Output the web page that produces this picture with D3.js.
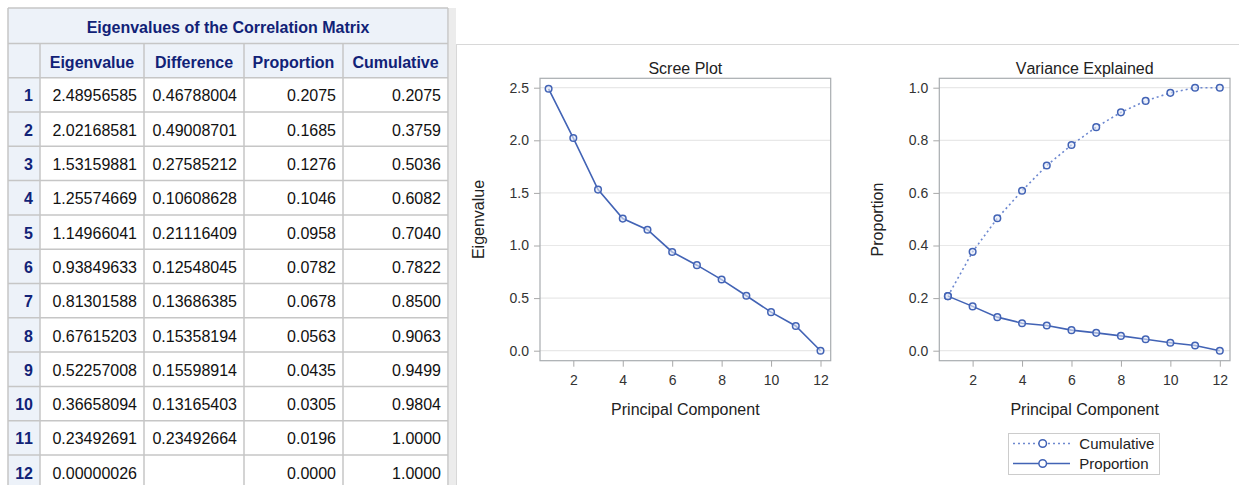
<!DOCTYPE html>
<html>
<head>
<meta charset="utf-8">
<script src="https://cdn.jsdelivr.net/npm/d3@7"></script>
<style>
  body { margin: 0; background: #fff; }
  svg text { font-family: "Liberation Sans", Arial, sans-serif; font-kerning: none; font-variant-numeric: tabular-nums; }
</style>
</head>
<body>
<svg id="chart" width="1239" height="485"></svg>
<script>
// values from the eigen table
var components = [1, 2, 3, 4, 5, 6, 7, 8, 9, 10, 11, 12];
var eigenvalues = [2.48956585, 2.02168581, 1.53159881, 1.25574669, 1.14966041, 0.93849633,
                   0.81301588, 0.67615203, 0.52257008, 0.36658094, 0.23492691, 0.00000026];
var differences = [0.46788004, 0.49008701, 0.27585212, 0.10608628, 0.21116409, 0.12548045,
                   0.13686385, 0.15358194, 0.15598914, 0.13165403, 0.23492664, null];
var proportions = [0.2075, 0.1685, 0.1276, 0.1046, 0.0958, 0.0782, 0.0678, 0.0563, 0.0435, 0.0305, 0.0196, 0.0000];
var cumulatives = [0.2075, 0.3759, 0.5036, 0.6082, 0.7040, 0.7822, 0.8500, 0.9063, 0.9499, 0.9804, 1.0000, 1.0000];
var tableTitle = "Eigenvalues of the Correlation Matrix";
var columnNames = ["Eigenvalue", "Difference", "Proportion", "Cumulative"];
var xTicks = [2, 4, 6, 8, 10, 12];
var screeTicks = [0, 0.5, 1.0, 1.5, 2.0, 2.5];
var varTicks = [0, 0.2, 0.4, 0.6, 0.8, 1.0];

var svg = d3.select("#chart");
var navy = "#112277";
var headBg = "#edf2f9";
var gridBorder = "#c6c6c6";
var blue = "#4263b5";
var lightBlue = "#6d88d0";

// ---------- table ----------
var colEdges = [8, 40, 144, 244, 343, 448];
var titleTop = 8, headTop = 43.5, bodyTop = 77.7, rowH = 34.3;
var fmt8 = d3.format(".8f"), fmt4 = d3.format(".4f");

var tbl = svg.append("g");
tbl.append("rect").attr("x", colEdges[0]).attr("y", titleTop)
  .attr("width", colEdges[5] - colEdges[0]).attr("height", bodyTop - titleTop).attr("fill", headBg);
tbl.append("rect").attr("x", colEdges[0]).attr("y", bodyTop)
  .attr("width", colEdges[1] - colEdges[0]).attr("height", 485 - bodyTop).attr("fill", headBg);

tbl.append("text").attr("x", (colEdges[0] + colEdges[5]) / 2).attr("y", 33.3)
  .attr("text-anchor", "middle").attr("font-size", 16).attr("font-weight", "bold")
  .attr("fill", navy).text(tableTitle);

tbl.selectAll(".hdr").data(columnNames).enter().append("text")
  .attr("x", function(d, i) { return (colEdges[i + 1] + colEdges[i + 2]) / 2; })
  .attr("y", 67.5).attr("text-anchor", "middle").attr("font-size", 16).attr("font-weight", "bold")
  .attr("fill", navy).text(function(d) { return d; });

var rows = tbl.selectAll(".row").data(components).enter().append("g")
  .attr("transform", function(d, i) { return "translate(0," + (bodyTop + i * rowH) + ")"; });

rows.append("text").attr("x", colEdges[1] - 7).attr("y", 23.8).attr("text-anchor", "end")
  .attr("font-size", 16).attr("font-weight", "bold").attr("fill", navy)
  .text(function(d) { return d; });

var cells = [
  function(i) { return fmt8(eigenvalues[i]); },
  function(i) { return differences[i] == null ? "" : fmt8(differences[i]); },
  function(i) { return fmt4(proportions[i]); },
  function(i) { return fmt4(cumulatives[i]); }
];
cells.forEach(function(f, c) {
  rows.append("text").attr("x", colEdges[c + 2] - 7).attr("y", 23.8).attr("text-anchor", "end")
    .attr("font-size", 16).attr("fill", "#111")
    .text(function(d, i) { return f(i); });
});

// grid lines of table
var hLines = [titleTop, headTop, bodyTop];
for (var r = 1; r <= 12; r++) hLines.push(bodyTop + r * rowH);
tbl.selectAll(".hl").data(hLines).enter().append("line")
  .attr("x1", colEdges[0]).attr("x2", colEdges[5])
  .attr("y1", function(d) { return d; }).attr("y2", function(d) { return d; })
  .attr("stroke", gridBorder).attr("stroke-width", 1.5);
tbl.selectAll(".vl").data(colEdges).enter().append("line")
  .attr("x1", function(d) { return d; }).attr("x2", function(d) { return d; })
  .attr("y1", function(d, i) { return (i == 0 || i == 5) ? titleTop : headTop; }).attr("y2", 485)
  .attr("stroke", gridBorder).attr("stroke-width", 1.5);

// divider strip and panel border
svg.append("rect").attr("x", 449).attr("y", 8).attr("width", 7).attr("height", 477).attr("fill", "#ececec");
svg.append("line").attr("x1", 456.5).attr("x2", 456.5).attr("y1", 44).attr("y2", 485).attr("stroke", "#d8d8d8");
svg.append("line").attr("x1", 456).attr("x2", 1239).attr("y1", 44.5).attr("y2", 44.5).attr("stroke", "#d8d8d8");

// ---------- plots ----------
function drawPlot(opt) {
  var g = svg.append("g");
  var fr = opt.frame;
  var x = d3.scaleLinear().domain([1, 12]).range([fr.x0 + 8.6, fr.x1 - 10.2]);
  var y = d3.scaleLinear().domain(opt.yDomain).range([350.7, 87.7]);

  g.selectAll(".grid").data(opt.yTicks).enter().append("line")
    .attr("x1", fr.x0).attr("x2", fr.x1)
    .attr("y1", function(d) { return y(d); }).attr("y2", function(d) { return y(d); })
    .attr("stroke", "#e8e8e8").attr("stroke-width", 1.2);

  var yAxis = d3.axisLeft(y).tickValues(opt.yTicks).tickFormat(d3.format(".1f")).tickSize(6).tickPadding(5);
  var ya = g.append("g").attr("transform", "translate(" + fr.x0 + ",0)").call(yAxis);
  var xAxis = d3.axisBottom(x).tickValues(xTicks).tickSize(6).tickPadding(8);
  var xa = g.append("g").attr("transform", "translate(0," + fr.y1 + ")").call(xAxis);
  [ya, xa].forEach(function(a) {
    a.select(".domain").remove();
    a.selectAll("line").attr("stroke", "#a8a8a8");
    a.selectAll("text").attr("font-size", 14).attr("fill", "#333")
      .attr("font-family", "Liberation Sans, Arial, sans-serif");
  });

  g.append("rect").attr("x", fr.x0).attr("y", fr.y0).attr("width", fr.x1 - fr.x0).attr("height", fr.y1 - fr.y0)
    .attr("fill", "none").attr("stroke", "#a8acb0").attr("stroke-width", 1.2);

  g.append("text").attr("x", (fr.x0 + fr.x1) / 2).attr("y", 74.3).attr("text-anchor", "middle")
    .attr("font-size", 16).attr("fill", "#222").text(opt.title);
  g.append("text").attr("x", (fr.x0 + fr.x1) / 2).attr("y", 415).attr("text-anchor", "middle")
    .attr("font-size", 16).attr("fill", "#222").text("Principal Component");
  g.append("text").attr("transform", "translate(" + opt.yLabelX + "," + (fr.y0 + fr.y1) / 2 + ") rotate(-90)")
    .attr("text-anchor", "middle").attr("font-size", 16).attr("fill", "#222").text(opt.yLabel);

  opt.series.forEach(function(s) {
    var line = d3.line().x(function(d, i) { return x(components[i]); }).y(function(d) { return y(d); });
    g.append("path").datum(s.values).attr("d", line).attr("fill", "none")
      .attr("stroke", s.color).attr("stroke-width", 1.6)
      .attr("stroke-dasharray", s.dash || null);
    g.selectAll(null).data(s.values).enter().append("circle")
      .attr("cx", function(d, i) { return x(components[i]); })
      .attr("cy", function(d) { return y(d); })
      .attr("r", 3.3).attr("fill", "#e4eaf7").attr("fill-opacity", 0.6)
      .attr("stroke", blue).attr("stroke-width", 1.5);
  });
  return g;
}

drawPlot({
  frame: { x0: 540, x1: 830.7, y0: 78.3, y1: 360.7 },
  yDomain: [0, 2.5], yTicks: screeTicks,
  title: "Scree Plot", yLabel: "Eigenvalue", yLabelX: 483.5,
  series: [{ values: eigenvalues, color: blue }]
});

drawPlot({
  frame: { x0: 939.3, x1: 1230, y0: 78.3, y1: 360.7 },
  yDomain: [0, 1], yTicks: varTicks,
  title: "Variance Explained", yLabel: "Proportion", yLabelX: 883,
  series: [{ values: cumulatives, color: lightBlue, dash: "2,3" },
           { values: proportions, color: blue }]
});

// legend
var legend = [{ name: "Cumulative", color: lightBlue, dash: "2,3" }, { name: "Proportion", color: blue }];
var lg = svg.append("g");
lg.append("rect").attr("x", 1008.5).attr("y", 433.5).attr("width", 151).attr("height", 41)
  .attr("fill", "#fff").attr("stroke", "#cccccc");
var li = lg.selectAll(".li").data(legend).enter().append("g")
  .attr("transform", function(d, i) { return "translate(0," + (443.5 + i * 20) + ")"; });
li.append("line").attr("x1", 1013).attr("x2", 1070).attr("y1", 0).attr("y2", 0)
  .attr("stroke", function(d) { return d.color; }).attr("stroke-width", 1.6)
  .attr("stroke-dasharray", function(d) { return d.dash || null; });
li.append("circle").attr("cx", 1042.7).attr("cy", 0).attr("r", 3.8)
  .attr("fill", "#fff").attr("stroke", blue).attr("stroke-width", 1.5);
li.append("text").attr("x", 1079.3).attr("y", 5.3).attr("font-size", 15).attr("fill", "#222")
  .text(function(d) { return d.name; });
</script>
</body>
</html>
